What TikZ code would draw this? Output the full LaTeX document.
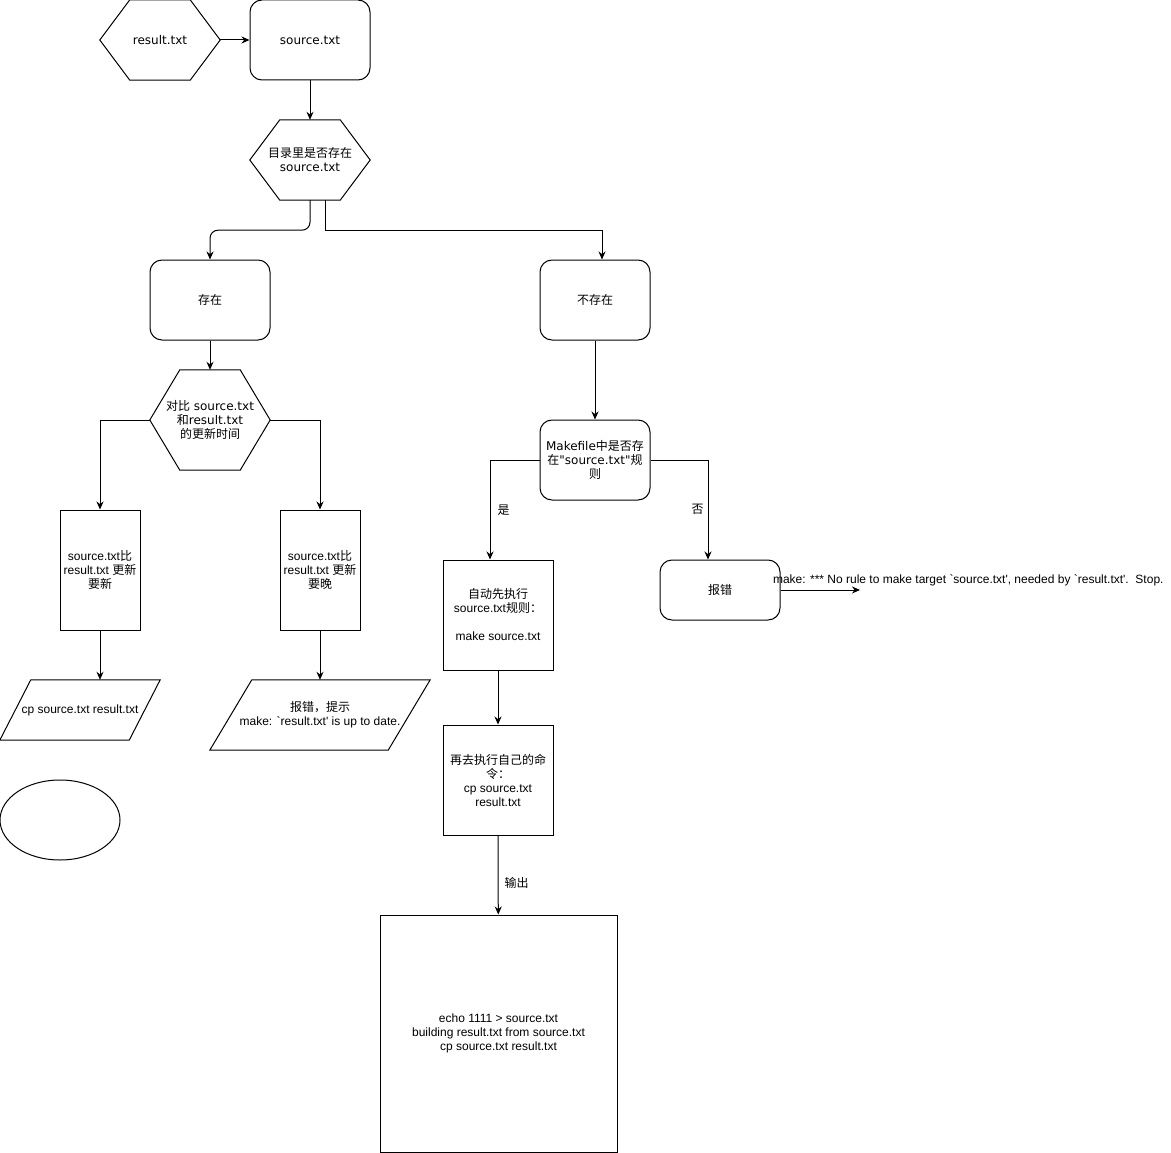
\documentclass[tikz,border=0pt]{standalone}
\usepackage{fontspec}
\newfontfamily\lib{Liberation Sans}
\newfontfamily\dvs{DejaVu Sans}
\newfontfamily\cjk{Noto Sans CJK SC}
\usetikzlibrary{arrows.meta,shapes.geometric}

\tikzset{
  every node/.style={font=\lib\fontsize{12}{14}\selectfont, align=center, inner sep=0pt},
  dvsfont/.style={font=\dvs\fontsize{12}{14}\selectfont},
  arr/.style={-{Stealth[length=8pt,width=7pt]}, line width=1pt},
  roundbox/.style={draw, line width=1pt, rounded corners=12pt, minimum width=120pt, minimum height=80pt},
  plainbox/.style={draw, line width=1pt, minimum width=80pt, minimum height=120pt},
  hexbox/.style={dvsfont, minimum width=120pt, minimum height=80pt},
}

\begin{document}
\begin{tikzpicture}[x=1pt,y=-1pt]
        \useasboundingbox (0,0) rectangle (1171,1153);

        % top row
        \node (res) [hexbox] at (160,40) {result.txt};
        \node (src) [roundbox,dvsfont] at (310,40) {source.txt};
        \node (hasq) [hexbox] at (310,160) {{\cjk 目录里是否存在}\\source.txt};

        % left branch
        \node (has) [roundbox,dvsfont] at (210,300) {{\cjk 存在}};
        \node (cmp) [hexbox,minimum height=100pt] at (210,420) {{\cjk 对比} source.txt\\{\cjk 和}result.txt\\{\cjk 的更新时间}};
        \node (newer) [plainbox] at (100,570) {source.txt{\cjk 比}\\result.txt {\cjk 更新}\\{\cjk 要新}};
        \node (older) [plainbox] at (320,570) {source.txt{\cjk 比}\\result.txt {\cjk 更新}\\{\cjk 要晚}};
        \node (cpbox) [minimum width=160pt, minimum height=60pt] at (80,710) {cp source.txt result.txt};
        \node (uptodate) [minimum width=220pt, minimum height=70pt] at (320,715) {{\cjk 报错，提示}\\make: `result.txt' is up to date.};
        \node (oval) [draw, line width=1pt, ellipse, minimum width=120pt, minimum height=80pt] at (60,820) {};

        % right branch
        \node (nohas) [roundbox,dvsfont,minimum width=110pt] at (595,300) {{\cjk 不存在}};
        \node (mk) [roundbox,dvsfont,minimum width=110pt] at (595,460) {Makefile{\cjk 中是否存}\\{\cjk 在}"source.txt"{\cjk 规}\\{\cjk 则}};
        \node (auto) [plainbox,minimum width=110pt,minimum height=110pt] at (498,615) {{\cjk 自动先执行}\\source.txt{\cjk 规则：}\\[14pt]make source.txt};
        \node (again) [plainbox,minimum width=110pt,minimum height=110pt] at (498,780) {{\cjk 再去执行自己的命}\\{\cjk 令：}\\cp source.txt\\result.txt};
        \node (big) [plainbox,minimum width=237pt,minimum height=237pt] at (498.5,1033.5) {echo 1111 > source.txt\\building result.txt from source.txt\\cp source.txt result.txt};
        \node (err) [roundbox,minimum height=60pt] at (720,590) {{\cjk 报错}};
        \coordinate (errend) at (860,590);

        % outlines
        \foreach \n in {res,hasq,cmp}
          \draw[line width=1pt] (\n.west) -- ([xshift=30pt]\n.north west) -- ([xshift=-30pt]\n.north east)
            -- (\n.east) -- ([xshift=-30pt]\n.south east) -- ([xshift=30pt]\n.south west) -- cycle;
        \foreach \n/\s in {cpbox/31,uptodate/42}
          \draw[line width=1pt] ([xshift=\s pt]\n.north west) -- (\n.north east)
            -- ([xshift=-\s pt]\n.south east) -- (\n.south west) -- cycle;

        % connectors
        \draw[arr] (res) -- (src);
        \draw[arr] (src) -- (hasq);
        \draw[arr,rounded corners=8pt] (hasq.south) -- ++(0,30) -| (has.north);
        \draw[arr] ([xshift=15pt]hasq.south) -- ++(0,30) -| ([xshift=7pt]nohas.north);
        \draw[arr] (has) -- (cmp);
        \draw[arr] (cmp.west) -| (newer.north);
        \draw[arr] (cmp.east) -| (older.north);
        \draw[arr] (newer.south) -- (newer.south |- cpbox.north);
        \draw[arr] (older) -- (uptodate);
        \draw[arr] (nohas) -- (mk);
        \draw[arr] (mk.west) -| ([xshift=-8pt]auto.north) node[pos=0.75, right=7pt] {{\cjk 是}};
        \draw[arr] (mk.east) -| ([xshift=-12pt]err.north) node[pos=0.75, left=4pt] {{\cjk 否}};
        \draw[arr] (auto) -- (again);
        \draw[arr] (again) -- (big) node[pos=0.6, right=6pt] {{\cjk 输出}};
        \draw[arr] (err) -- (errend) node[at start, anchor=west, xshift=-8pt, yshift=10pt]
          {make: *** No rule to make target `source.txt', needed by `result.txt'.\ \ Stop.};
    \end{tikzpicture}
\end{document}
